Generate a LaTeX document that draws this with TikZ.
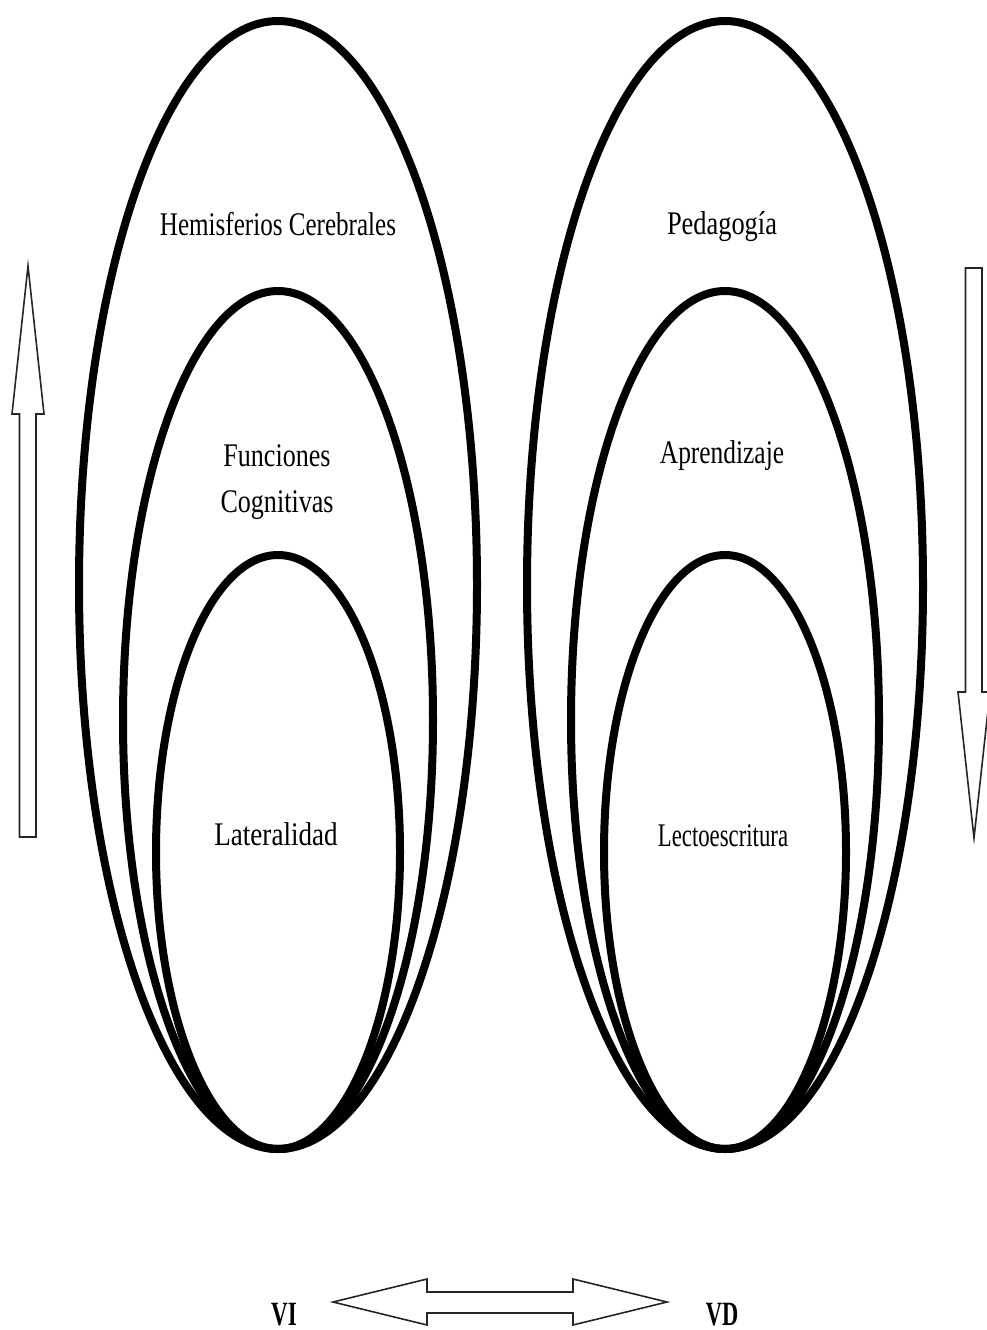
\documentclass[tikz,border=0pt]{standalone}
\usepackage{fontspec}
\setmainfont{Liberation Serif}
\newcommand\sqz[2]{\scalebox{#1}[1]{#2}}
\begin{document}
\begin{tikzpicture}[x=1pt,y=-1pt,
  ring/.style={line width=8pt, draw=black},
  blockarrow/.style={draw=black!85, line width=1.6pt, fill=white, line join=miter},
  lbl/.style={font=\fontsize{33}{46}\selectfont, anchor=base, inner sep=0pt, text=black},
  vlbl/.style={font=\fontsize{34}{38}\selectfont\bfseries, anchor=base, inner sep=0pt, text=black}]
\useasboundingbox (0,0) rectangle (987,1330);

% left family of ellipses
\draw[ring] (278,585) ellipse [x radius=199pt, y radius=564pt];
\draw[ring] (278,720) ellipse [x radius=155pt, y radius=429pt];
\draw[ring] (278,852) ellipse [x radius=122pt, y radius=297pt];

% right family of ellipses
\draw[ring] (725,585) ellipse [x radius=198pt, y radius=564pt];
\draw[ring] (725,720) ellipse [x radius=154pt, y radius=429pt];
\draw[ring] (725,852) ellipse [x radius=121pt, y radius=297pt];

% labels
\node[lbl] (hem) at (278,235) {\sqz{0.76}{Hemisferios Cerebrales}};
\node[lbl, anchor=center, align=center] (fun) at (277,482) {\sqz{0.79}{Funciones}\\\sqz{0.79}{Cognitivas}};
\node[lbl] (lat) at (276,845) {\sqz{0.82}{Lateralidad}};
\node[lbl] (ped) at (722,234) {\sqz{0.80}{Pedagogía}};
\node[lbl] (apr) at (722,463) {\sqz{0.77}{Aprendizaje}};
\node[lbl] (lec) at (723,846) {\sqz{0.69}{Lectoescritura}};

% vertical block arrows
\draw[blockarrow] (19.5,837) -- (19.5,414) -- (12,414) -- (28,266) -- (44,414) -- (36,414) -- (36,837) -- cycle;
\draw[blockarrow] (965.5,268) -- (982,268) -- (982,692) -- (990,692) -- (974,838) -- (958,692) -- (965.5,692) -- cycle;

% horizontal double block arrow
\draw[blockarrow] (333,1302) -- (427,1279) -- (427,1292) -- (573,1292) -- (573,1279) -- (667,1302)
  -- (573,1325) -- (573,1313) -- (427,1313) -- (427,1325) -- cycle;

\node[vlbl] (vi) at (284,1325) {\sqz{0.68}{VI}};
\node[vlbl] (vd) at (722,1325) {\sqz{0.66}{VD}};
\end{tikzpicture}
\end{document}
